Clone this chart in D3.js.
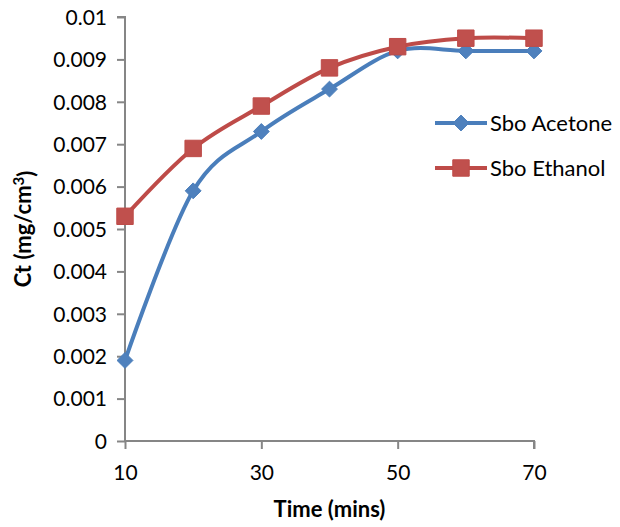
<!DOCTYPE html>
<html>
<head>
<meta charset="utf-8">
<script src="https://cdn.jsdelivr.net/npm/d3@7"></script>
<style>
  body { margin: 0; background: #fff; }
  text { font-family: Lato, "Open Sans", sans-serif; fill: #000; }
</style>
</head>
<body>
<div id="chart"></div>
<script>
// values
const times = [10, 20, 30, 40, 50, 60, 70];
const acetone = [0.0019, 0.0059, 0.0073, 0.0083, 0.0092, 0.0092, 0.0092];
const ethanol = [0.0053, 0.0069, 0.0079, 0.0088, 0.0093, 0.0095, 0.0095];
const xTicks = [10, 30, 50, 70];
const yTicks = [0, 0.001, 0.002, 0.003, 0.004, 0.005, 0.006, 0.007, 0.008, 0.009, 0.01];
const seriesNames = ["Sbo Acetone", "Sbo Ethanol"];

const width = 620, height = 527;
const margin = {top: 17, right: 86, bottom: 86, left: 125};

const svg = d3.select('#chart')
    .append('svg')
    .attr('width', width)
    .attr('height', height);

const x = d3.scaleLinear().domain([10, 70]).range([margin.left, 534]);
const y = d3.scaleLinear().domain([0, 0.01]).range([height - margin.bottom, margin.top]);

const axisColor = "#868686";

//Y axis
const yAxis = svg.append('g')
    .attr('transform', `translate(${margin.left},0)`)
    .call(d3.axisLeft(y).tickValues(yTicks).tickSize(8).tickPadding(10)
        .tickFormat(d => d === 0 ? "0" : d3.format(".3~f")(d)));
yAxis.select('.domain').attr('stroke', axisColor).attr('stroke-width', 2).attr('d', `M-8,${y(0.01)}H0V${y(0)}`);
yAxis.selectAll('.tick line').attr('stroke', axisColor).attr('stroke-width', 2);
yAxis.selectAll('.tick text').style('font-size', '21px').attr('dy', '0.35em');

//X axis
const xAxis = svg.append('g')
    .attr('transform', `translate(0,${y(0)})`)
    .call(d3.axisBottom(x).tickValues(xTicks).tickSize(8).tickPadding(16));
xAxis.select('.domain').attr('stroke', axisColor).attr('stroke-width', 2).attr('d', `M${x(10)},0H${x(70)}V8`);
xAxis.selectAll('.tick line').attr('stroke', axisColor).attr('stroke-width', 2);
xAxis.selectAll('.tick text').style('font-size', '21px');

//Axis titles
svg.append('text')
    .attr('x', (x(10) + x(70)) / 2)
    .attr('y', 517)
    .attr('text-anchor', 'middle')
    .style('font-size', '22px')
    .style('font-weight', 'bold')
    .text('Time (mins)');

svg.append('text')
    .attr('transform', `translate(31,${(y(0) + y(0.01)) / 2}) rotate(-90)`)
    .attr('text-anchor', 'middle')
    .style('font-size', '22px')
    .style('font-weight', 'bold')
    .text('Ct (mg/cm')
    .append('tspan').attr('dy', '-0.45em').style('font-size', '15px').text('3')
    .append('tspan').attr('dy', '0.45em').style('font-size', '22px').text(')');

const line = d3.line()
    .x(d => x(d.t))
    .y(d => y(d.v))
    .curve(d3.curveCatmullRom.alpha(0));

const series = [
    {name: seriesNames[0], values: acetone, color: "#4A7EBB", fill: "#4F81BD", shape: d3.symbolDiamond2, size: 160},
    {name: seriesNames[1], values: ethanol, color: "#BE4B48", fill: "#C0504D", shape: d3.symbolSquare, size: 270}
];

//Lines and markers
series.forEach(s => {
    const pts = times.map((t, i) => ({t: t, v: s.values[i]}));
    svg.append('path')
        .datum(pts)
        .attr('d', line)
        .attr('fill', 'none')
        .attr('stroke', s.color)
        .attr('stroke-width', 4);
});

series.forEach(s => {
    const pts = times.map((t, i) => ({t: t, v: s.values[i]}));
    const sym = d3.symbol().type(s.shape).size(s.size);
    svg.selectAll(null)
        .data(pts)
        .enter()
        .append('path')
        .attr('d', sym)
        .attr('transform', d => `translate(${x(d.t)},${y(d.v)})`)
        .attr('fill', s.fill)
        .attr('stroke', s.color)
        .attr('stroke-width', 1);
});

//Legend
const legend = svg.append('g');
series.forEach((s, i) => {
    const ly = 123 + i * 45;
    legend.append('line')
        .attr('x1', 435).attr('x2', 487)
        .attr('y1', ly).attr('y2', ly)
        .attr('stroke', s.color).attr('stroke-width', 4);
    legend.append('path')
        .attr('d', d3.symbol().type(s.shape).size(s.size))
        .attr('transform', `translate(461,${ly})`)
        .attr('fill', s.fill)
        .attr('stroke', s.color);
    legend.append('text')
        .attr('x', 490)
        .attr('y', ly)
        .attr('dy', '0.35em')
        .style('font-size', '22px')
        .text(s.name);
});
</script>
</body>
</html>
